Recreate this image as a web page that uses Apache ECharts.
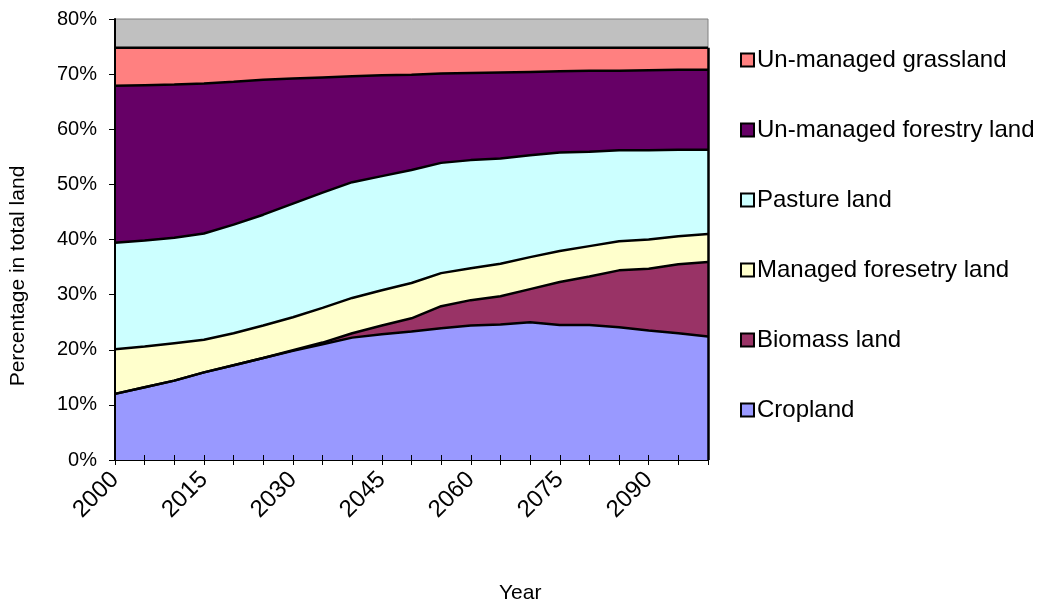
<!DOCTYPE html>
<html>
<head>
<meta charset="utf-8">
<script src="https://cdn.jsdelivr.net/npm/echarts@6/dist/echarts.min.js"></script>
<style>
  html, body { margin: 0; padding: 0; background: #ffffff; }
  #chart { width: 1044px; height: 602px; }
</style>
</head>
<body>
<div id="chart"></div>
<script>
// Land-use shares, percent of total land, 2000-2100 in 5-year steps
const years = ['2000','2005','2010','2015','2020','2025','2030','2035','2040','2045','2050',
               '2055','2060','2065','2070','2075','2080','2085','2090','2095','2100'];
const cropland       = [12.0, 13.2, 14.4, 15.9, 17.2, 18.5, 19.8, 21.0, 22.2, 22.8, 23.3, 23.9, 24.4, 24.6, 25.0, 24.5, 24.5, 24.1, 23.5, 23.0, 22.4];
const biomassLand    = [0.0, 0.0, 0.0, 0.0, 0.0, 0.0, 0.1, 0.3, 0.8, 1.6, 2.4, 4.0, 4.6, 5.1, 6.0, 7.8, 8.8, 10.3, 11.2, 12.5, 13.5];
const managedForest  = [8.1, 7.4, 6.8, 5.9, 5.8, 5.9, 6.0, 6.3, 6.4, 6.4, 6.4, 6.0, 5.8, 5.9, 5.8, 5.6, 5.5, 5.3, 5.3, 5.1, 5.1];
const pastureLand    = [19.3, 19.2, 19.1, 19.3, 19.7, 20.1, 20.6, 20.9, 21.0, 20.7, 20.5, 20.0, 19.6, 19.1, 18.5, 17.9, 17.1, 16.5, 16.2, 15.7, 15.3];
const unmanagedForest= [28.5, 28.2, 27.8, 27.2, 25.9, 24.5, 22.7, 20.9, 19.2, 18.3, 17.3, 16.2, 15.8, 15.6, 15.1, 14.7, 14.7, 14.4, 14.5, 14.5, 14.5];
const unmanagedGrass = [6.9, 6.8, 6.7, 6.5, 6.2, 5.8, 5.6, 5.4, 5.2, 5.0, 4.9, 4.7, 4.6, 4.5, 4.4, 4.3, 4.2, 4.2, 4.1, 4.0, 4.0];
const yTicks = { min: 0, max: 80, step: 10 };

const layers = [
  { name: 'Cropland',                  data: cropland,        color: '#9999FF' },
  { name: 'Biomass land',              data: biomassLand,     color: '#993366' },
  { name: 'Managed foresetry land',    data: managedForest,   color: '#FFFFCC' },
  { name: 'Pasture land',              data: pastureLand,     color: '#CCFFFF' },
  { name: 'Un-managed forestry land',  data: unmanagedForest, color: '#660066' },
  { name: 'Un-managed grassland',      data: unmanagedGrass,  color: '#FF8080' }
];

const FONT = 'Liberation Sans, Arial, sans-serif';
const last = years.length - 1;
const stackTotalAtEnd = layers.reduce((s, l) => s + l.data[last], 0);

const series = layers.map((l, idx) => {
  const s = {
    name: l.name,
    type: 'line',
    stack: 'land',
    data: l.data,
    symbol: 'none',
    color: l.color,
    lineStyle: { color: '#000000', width: 2.5 },
    areaStyle: { color: l.color, opacity: 1 },
    itemStyle: { color: l.color, borderColor: '#000000', borderWidth: 1.5 },
    emphasis: { disabled: true },
    animation: false
  };
  if (idx === layers.length - 1) {
    // closing edge of the stacked areas on the right side
    s.markLine = {
      silent: true,
      symbol: 'none',
      label: { show: false },
      lineStyle: { color: '#000000', width: 2.5, type: 'solid' },
      data: [[{ coord: [years[last], 0] }, { coord: [years[last], stackTotalAtEnd] }]]
    };
  }
  return s;
});

const chart = echarts.init(document.getElementById('chart'), null, { renderer: 'canvas' });
chart.setOption({
  backgroundColor: '#ffffff',
  animation: false,
  textStyle: { fontFamily: FONT, color: '#000000' },
  title: {
    text: 'Year',
    left: 494,
    top: 578,
    textStyle: { fontFamily: FONT, fontSize: 21, fontWeight: 'normal', color: '#000000' }
  },
  graphic: [{
    type: 'text',
    x: 18,
    y: 276,
    rotation: Math.PI / 2,
    style: {
      text: 'Percentage in total land',
      font: '21px ' + FONT,
      fill: '#000000',
      align: 'center',
      verticalAlign: 'middle'
    }
  }],
  grid: {
    left: 115, right: 336, top: 19, bottom: 142,
    show: true,
    backgroundColor: '#C0C0C0',
    borderColor: '#808080',
    borderWidth: 1
  },
  legend: {
    orient: 'vertical',
    left: 735,
    top: 43,
    itemWidth: 13,
    itemHeight: 13,
    itemGap: 46,
    icon: 'rect',
    data: layers.map(l => l.name).reverse(),
    textStyle: { fontFamily: FONT, fontSize: 24, lineHeight: 24, color: '#000000', padding: [0, 0, 0, -2] }
  },
  xAxis: [
    {
      type: 'category',
      data: years,
      boundaryGap: false,
      axisLine: { lineStyle: { color: '#000000', width: 2 } },
      axisTick: { show: true, interval: 0, length: 5, lineStyle: { color: '#000000' } },
      axisLabel: { interval: 2, rotate: 45, margin: 16, fontFamily: FONT, fontSize: 24, color: '#000000' },
      splitLine: { show: false }
    },
    {
      type: 'category',
      data: years,
      boundaryGap: false,
      position: 'bottom',
      z: 10,
      axisLine: { show: false },
      axisTick: { show: true, inside: true, interval: 0, length: 5, lineStyle: { color: '#000000' } },
      axisLabel: { show: false },
      splitLine: { show: false }
    }
  ],
  yAxis: {
    type: 'value',
    min: yTicks.min,
    max: yTicks.max,
    interval: yTicks.step,
    z: 10,
    axisLine: { show: true, lineStyle: { color: '#000000', width: 2 } },
    axisTick: { show: true, length: 6, lineStyle: { color: '#000000' } },
    axisLabel: { formatter: '{value}%', margin: 18, fontFamily: FONT, fontSize: 20, color: '#000000' },
    splitLine: { show: false }
  },
  series: series
});
</script>
</body>
</html>
